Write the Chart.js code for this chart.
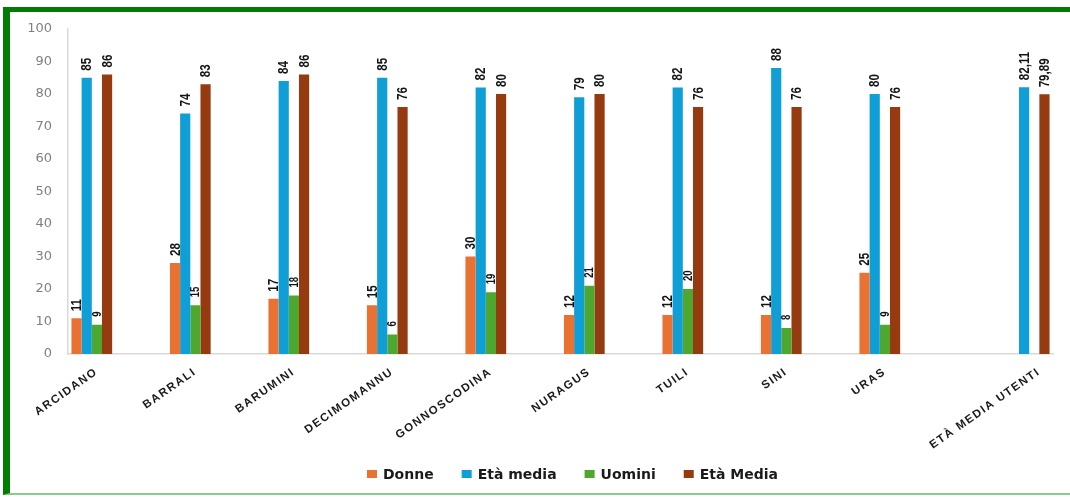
<!DOCTYPE html>
<html>
<head>
<meta charset="utf-8">
<script src="https://cdn.jsdelivr.net/npm/chart.js@4.4.1/dist/chart.umd.min.js"></script>
<style>
html,body{margin:0;padding:0;background:#fff;width:1070px;height:497px;overflow:hidden;}
#frame{position:absolute;left:3px;top:7px;width:1100px;height:481px;border-left:7px solid #007d00;border-top:5px solid #007d00;border-bottom:2px solid #8ccb8c;}
canvas{position:absolute;left:0;top:0;}
</style>
</head>
<body>
<div id="frame"></div>
<canvas id="c" width="1070" height="497"></canvas>
<script>
// ---- data ----
const categories = ['ARCIDANO','BARRALI','BARUMINI','DECIMOMANNU','GONNOSCODINA','NURAGUS','TUILI','SINI','URAS','ETÀ MEDIA UTENTI'];
const donne          = [11, 28, 17, 15, 30, 12, 12, 12, 25, null];
const etaMediaDonne  = [85, 74, 84, 85, 82, 79, 82, 88, 80, null];
const uomini         = [9, 15, 18, 6, 19, 21, 20, 8, 9, null];
const etaMediaUomini = [86, 83, 86, 76, 80, 80, 76, 76, 76, null];
const etaMediaUtentiDonne  = [null, null, null, null, null, null, null, null, null, 82.11];
const etaMediaUtentiUomini = [null, null, null, null, null, null, null, null, null, 79.89];
const emptySeries    = [null, null, null, null, null, null, null, null, null, null];
const yTicks = [0, 10, 20, 30, 40, 50, 60, 70, 80, 90, 100];
const legendNames = ['Donne', 'Età media', 'Uomini', 'Età Media'];

// ---- styles ----
const C_ORANGE = '#E97132', C_BLUE = '#0F9ED5', C_GREEN = '#4EA72E', C_BROWN = '#953B0F';

function series(label, data, color, inLegend, labelSize, labelGap) {
  return {
    label: label, data: data, backgroundColor: color, borderWidth: 0,
    inLegend: inLegend, labelSize: labelSize, labelGap: labelGap
  };
}

const datasets = [
  series(legendNames[0], donne, C_ORANGE, true, 14.5, 7),
  series(legendNames[1], etaMediaDonne, C_BLUE, true, 14.5, 7),
  series(legendNames[2], uomini, C_GREEN, true, 12, 8),
  series(legendNames[3], etaMediaUomini, C_BROWN, true, 14.5, 7),
  series('', emptySeries, C_ORANGE, false, 14.5, 7),
  series('', emptySeries, C_ORANGE, false, 14.5, 7),
  series(legendNames[1], etaMediaUtentiDonne, C_BLUE, false, 14.5, 7),
  series('', emptySeries, C_GREEN, false, 14.5, 7),
  series(legendNames[3], etaMediaUtentiUomini, C_BROWN, false, 14.5, 7)
];

const valueLabels = {
  id: 'valueLabels',
  afterDatasetsDraw(chart) {
    const ctx = chart.ctx;
    chart.data.datasets.forEach((d, di) => {
      const meta = chart.getDatasetMeta(di);
      meta.data.forEach((bar, i) => {
        const v = d.data[i];
        if (v === null || v === undefined) return;
        ctx.save();
        ctx.translate(bar.x + 0.5, bar.y - d.labelGap);
        ctx.rotate(-Math.PI / 2);
        ctx.scale(0.8, 1);
        ctx.font = 'bold ' + d.labelSize + 'px "Liberation Sans", Arial, sans-serif';
        ctx.fillStyle = '#141414';
        ctx.textAlign = 'left';
        ctx.textBaseline = 'middle';
        ctx.fillText(String(v).replace('.', ','), 0, 0);
        ctx.restore();
      });
    });
  }
};

const categoryLabels = {
  id: 'categoryLabels',
  afterDraw(chart) {
    const ctx = chart.ctx;
    const y0 = chart.chartArea.bottom + 12;
    categories.forEach((c, i) => {
      const xs = [];
      chart.data.datasets.forEach((d, di) => {
        if (d.data[i] !== null && d.data[i] !== undefined) xs.push(chart.getDatasetMeta(di).data[i].x);
      });
      if (!xs.length) return;
      const cx = xs.reduce((a, b) => a + b, 0) / xs.length;
      ctx.save();
      ctx.translate(cx + 1.5, y0);
      ctx.rotate(-35 * Math.PI / 180);
      ctx.font = 'bold 11.5px "Liberation Sans", Arial, sans-serif';
      try { ctx.letterSpacing = '1.5px'; } catch (e) {}
      ctx.textAlign = 'right';
      ctx.textBaseline = 'top';
      ctx.fillStyle = '#1a1a1a';
      ctx.fillText(c, 0, 0);
      ctx.restore();
    });
  }
};

const customLegend = {
  id: 'customLegend',
  afterDraw(chart) {
    const ctx = chart.ctx;
    const items = chart.data.datasets.filter(d => d.inLegend);
    ctx.save();
    ctx.font = 'bold 14px "DejaVu Sans", Verdana, sans-serif';
    const box = 10, boxGap = 6, itemGap = 28;
    const widths = items.map(d => box + boxGap + ctx.measureText(d.label).width);
    const total = widths.reduce((a, b) => a + b, 0) + itemGap * (items.length - 1);
    const centerX = (chart.chartArea.left + chart.chartArea.right) / 2 + 12;
    const cy = 474;
    let x = centerX - total / 2;
    items.forEach((d, k) => {
      ctx.fillStyle = d.backgroundColor;
      ctx.fillRect(x, cy - 4, box, 8);
      ctx.fillStyle = '#1a1a1a';
      ctx.textAlign = 'left';
      ctx.textBaseline = 'middle';
      ctx.fillText(d.label, x + box + boxGap, cy + 1);
      x += widths[k] + itemGap;
    });
    ctx.restore();
  }
};

new Chart(document.getElementById('c'), {
  type: 'bar',
  data: { labels: categories, datasets: datasets },
  options: {
    responsive: false,
    animation: false,
    devicePixelRatio: 1,
    layout: { padding: { left: 0, right: 17, top: 29, bottom: 0 } },
    datasets: { bar: { categoryPercentage: 0.93, barPercentage: 1.0 } },
    plugins: { legend: { display: false }, tooltip: { enabled: false } },
    scales: {
      x: {
        grid: { display: false },
        border: { display: true, color: '#d9d9d9', width: 1.5 },
        ticks: { display: false },
        afterFit(s) { s.height = 143; }
      },
      y: {
        min: 0, max: 100,
        afterBuildTicks(s) { s.ticks = yTicks.map(v => ({ value: v })); },
        grid: { display: false, drawTicks: false },
        border: { display: true, color: '#d9d9d9', width: 1.5 },
        ticks: {
          padding: 16,
          color: '#808080',
          font: { family: '"DejaVu Sans", Verdana, sans-serif', size: 13 }
        },
        afterFit(s) { s.width = 68; }
      }
    }
  },
  plugins: [valueLabels, categoryLabels, customLegend]
});
</script>
</body>
</html>
